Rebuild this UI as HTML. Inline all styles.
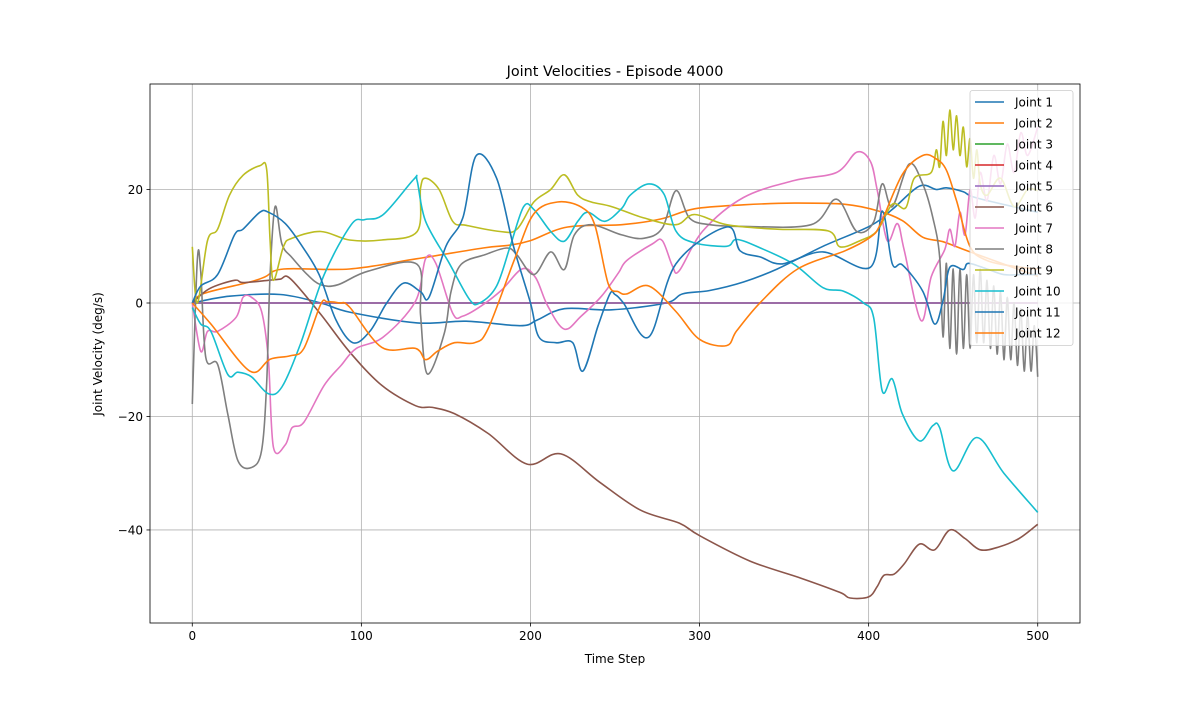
<!DOCTYPE html>
<html><head><meta charset="utf-8"><style>
body{margin:0;background:#fff;font-family:"Liberation Sans","DejaVu Sans",sans-serif}
svg text{font-family:"DejaVu Sans","Liberation Sans",sans-serif}
</style></head><body>
<svg id="chart" width="1200" height="700" xmlns="http://www.w3.org/2000/svg">
<rect width="1200" height="700" fill="#fff"/>
<g id="grid"></g><g id="series"></g><g id="axes"></g><g id="legend"></g>
</svg>
<script>
const xTicks=[0,100,200,300,400,500];
const yTicks=[-40,-20,0,20];
const seriesNames=["Joint 1","Joint 2","Joint 3","Joint 4","Joint 5","Joint 6","Joint 7","Joint 8","Joint 9","Joint 10","Joint 11","Joint 12"];
const j1Steps=[0,22,52,76,93,133,162,194,204,220,248,280,290,306,326,346,373,401,414,430,440,446,456,464,500];
const j1Vals=[0,1.2,1.5,0,-1.6,-3.5,-3.2,-4,-3,-1,-1.2,0,1.6,2.2,3.7,6,10,13.6,16.5,20.6,20,20.3,19.6,18.5,16];
const j2Steps=[0,7,34,43,54,93,133,172,188,200,222,254,277,297,326,356,386,406,420,432,444,460,500];
const j2Vals=[0,1.7,3.7,4.6,6,6,7.8,9.7,10.2,11,13.4,13.8,14.8,16.6,17.3,17.6,17.4,16.2,14.5,11.6,10.8,9,4.7];
const j3Steps=[0,500];const j3Vals=[0,0];
const j4Steps=[0,500];const j4Vals=[0,0];
const j5Steps=[0,500];const j5Vals=[0,0];
const j6Steps=[0,10,25,30,45,52,58,76,93,112,132,142,155,175,198,218,241,265,288,300,330,360,383,389,400,405,409,415,421,430,439,448,457,466,477,489,500];
const j6Vals=[0,2.5,4,3.6,4,4.2,4.3,-2,-8.6,-14.5,-18.1,-18.4,-19.5,-23,-28.4,-26.6,-31.6,-36.5,-38.8,-41,-45.5,-48.5,-51,-52,-51.8,-50,-48,-47.8,-46,-42.5,-43.5,-40,-41.5,-43.5,-43,-41.5,-39];
const j7Steps=[0,5,9,15,26,30,35,41,45,48,55,59,66,78,88,97,113,132,138,144,154,160,171,183,195,203,210,220,230,242,252,257,272,278,284,288,302,326,356,381,393,401,405,411,417,421,431,437,445,448,451,454,457,460,463,466,470,474,478,482,486,490,494,500];
const j7Vals=[0,-8.5,-5,-5,-2.5,1,1,-1.5,-10,-25.4,-25,-22,-21,-14.5,-11,-8,-6,0.3,7.8,7,-1.8,-2.3,-0.5,2.3,6,4.5,-0.4,-4.6,-2.3,1.2,5.3,7.5,10.4,11,6.5,5.7,12.7,18.6,21.6,23,26.6,25,20,11,14,9.4,-3.1,4.6,9.4,13,10,16,12,20,15,23,18,26,21,28,23,30,26,31];
const j8Steps=[0,3,5,8,15,21,27,35,41,44,46,49,53,59,68,76,86,104,133,135,139,149,153,159,173,186,192,202,212,220,226,236,254,267,278,286,294,306,326,366,381,393,403,408,414,424,432,438,442,444,446,448,450,452,454,456,458,460,462,464,466,468,470,472,474,476,478,480,482,484,486,488,490,492,494,496,498,500];
const j8Vals=[-17.8,7.5,5.6,-9.6,-10.8,-19.6,-27.8,-29,-26,-14,5,17,10.4,8,5,3.2,3.2,5.6,6.8,-2,-12.5,-5.4,2,6.8,8.5,9.7,8.5,5,9,5.9,12,13.8,12,11.4,13.2,19.8,15,13.8,13.5,13.8,18.3,12.6,14.3,21,17,24.5,21,15,8,-6,7,-8,6,-9,6,-8,5,-8,5,-7,6,-7,4,-8,3,-9,2,-10,1,-10,0,-11,-1,-12,-2,-12,-4,-13];
const j9Steps=[0,3,9,15,22,30,40,44,46,48,54,59,76,93,112,133,135,138,146,154,162,182,192,202,212,220,228,236,248,267,286,297,316,346,376,383,395,405,414,422,427,437,440,442,444,446,448,450,452,454,456,458,460,462,464,466,470,478,486,494,500];
const j9Vals=[9.9,0,11,13,19,22.5,24.2,23.5,11,4,10,11.4,12.6,11.1,11.1,12.6,20.2,22,20,14.4,13.7,12.6,13,17.8,20,22.6,19,17.8,17,15,13.8,15.6,13.8,13,12.7,9.9,11,12.7,17.4,16.8,22,23,27,24,32,26,34,27,33,26,31,24,29,22,27,21,19,22,17,20,19.8];
const j10Steps=[0,5,11,21,27,35,45,53,64,78,94,102,113,131,133,138,152,164,170,180,188,196,202,212,220,228,234,244,254,259,270,279,286,297,316,322,336,356,373,385,397,403,408,414,420,430,438,442,450,464,480,500];
const j10Vals=[-0.8,-3.7,-5,-12.6,-12.2,-13,-16,-14.8,-7.2,5,13.8,14.7,15.6,21.8,21.5,14.4,7,0.6,0,3,10,17,16.5,12.6,10.9,14.4,16,14.4,16.7,19,21,19.2,12.7,10.6,10,11.2,9.7,6.8,2.7,2.1,0,-2.6,-15.5,-13.4,-19.6,-24.3,-21.6,-22,-29.6,-23.7,-30,-36.9];
const j11Steps=[0,5,15,25,30,40,45,55,65,75,85,95,105,115,125,135,140,150,160,168,180,190,200,205,215,225,231,240,247,250,255,270,286,316,324,336,349,373,401,408,414,420,432,439,444,448,456,459,470,480,490,500];
const j11Vals=[0,3,5,12,13,16,16,14,10,5,-3,-7,-5,0,3.5,2,1,10,15,26,22,10,0,-6,-7,-7,-12,-4,1.6,1.5,0,-6,6.9,13.4,9.2,8.1,6.9,9,6.3,16.2,6.9,6.7,2.1,-3.7,0.4,6.3,5.9,7,6,5,5,5];
const j12Steps=[0,11,34,46,58,66,76,80,87,93,112,132,138,145,155,167,175,191,202,216,230,238,246,252,257,270,286,300,316,322,336,358,386,401,407,420,432,440,446,452,460,470,485,500];
const j12Vals=[0,-3.7,-12,-9.9,-9.3,-8,-0.2,0.2,0,-0.7,-7.8,-8,-10,-8.5,-7,-7,-4.5,8,15.7,17.8,16.9,13.8,3.4,2,1.6,3,-1.5,-6.4,-7.5,-4.9,0.1,6,9.2,11.6,13.9,22.7,26,25.4,23.4,18,9.9,7.5,6.5,6];

const allSteps=[j1Steps,j2Steps,j3Steps,j4Steps,j5Steps,j6Steps,j7Steps,j8Steps,j9Steps,j10Steps,j11Steps,j12Steps];
const allVals=[j1Vals,j2Vals,j3Vals,j4Vals,j5Vals,j6Vals,j7Vals,j8Vals,j9Vals,j10Vals,j11Vals,j12Vals];
const colors=["#1f77b4","#ff7f0e","#2ca02c","#d62728","#9467bd","#8c564b","#e377c2","#7f7f7f","#bcbd22","#17becf","#1f77b4","#ff7f0e"];

const L=150,R=1080,T=84,B=623;
const xMin=-25,xMax=525,yMin=-56.4,yMax=38.6;
const X=v=>L+(v-xMin)/(xMax-xMin)*(R-L);
const Y=v=>B-(v-yMin)/(yMax-yMin)*(B-T);
const NS="http://www.w3.org/2000/svg";
function mk(tag,attrs,parent){const e=document.createElementNS(NS,tag);for(const k in attrs)e.setAttribute(k,attrs[k]);parent.appendChild(e);return e;}
const grid=document.getElementById('grid'),ser=document.getElementById('series'),ax=document.getElementById('axes'),lg=document.getElementById('legend');

function smoothPath(pts){
  if(pts.length<3)return pts.map((p,k)=>(k?'L':'M')+p[0].toFixed(1)+','+p[1].toFixed(1)).join(' ');
  let d='M'+pts[0][0].toFixed(1)+','+pts[0][1].toFixed(1);
  for(let i=0;i<pts.length-1;i++){
    const p0=pts[Math.max(0,i-1)],p1=pts[i],p2=pts[i+1],p3=pts[Math.min(pts.length-1,i+2)];
    const c1x=p1[0]+(p2[0]-p0[0])/6,c1y=p1[1]+(p2[1]-p0[1])/6;
    const c2x=p2[0]-(p3[0]-p1[0])/6,c2y=p2[1]-(p3[1]-p1[1])/6;
    d+=' C'+c1x.toFixed(1)+','+c1y.toFixed(1)+' '+c2x.toFixed(1)+','+c2y.toFixed(1)+' '+p2[0].toFixed(1)+','+p2[1].toFixed(1);
  }
  return d;
}

xTicks.forEach(t=>{
  const g=mk('line',{x1:X(t),x2:X(t),y1:T,y2:B,stroke:'#b0b0b0','stroke-width':0.8},grid);
  
  
  mk('line',{x1:X(t),x2:X(t),y1:B,y2:B+3.5,stroke:'#000','stroke-width':0.8},ax);
  const tx=mk('text',{x:X(t),y:B+17,'font-size':12,'text-anchor':'middle',fill:'#000'},ax);
  tx.textContent=t;
  
  
});
yTicks.forEach(t=>{
  const g=mk('line',{x1:L,x2:R,y1:Y(t),y2:Y(t),stroke:'#b0b0b0','stroke-width':0.8},grid);
  
  
  mk('line',{x1:L-3.5,x2:L,y1:Y(t),y2:Y(t),stroke:'#000','stroke-width':0.8},ax);
  const tx=mk('text',{x:L-7,y:Y(t)+4.5,'font-size':12,'text-anchor':'end',fill:'#000'},ax);
  tx.textContent=t===0?'0':(t<0?'\u2212'+(-t):t);
  
  
});
allSteps.forEach((s,i)=>{
  const v=allVals[i];
  const pts=s.map((st,k)=>[X(st),Y(v[k])]);
  const p=mk('path',{d:smoothPath(pts),fill:'none',stroke:colors[i],'stroke-width':1.6,'stroke-linejoin':'round'},ser);
  
  
});
const frame=mk('rect',{x:L,y:T,width:R-L,height:B-T,fill:'none',stroke:'#000','stroke-width':0.8},ax);


const title=mk('text',{x:(L+R)/2,y:T-8,'font-size':14.4,'text-anchor':'middle',fill:'#000'},ax);
title.textContent='Joint Velocities - Episode 4000';


const xl=mk('text',{x:(L+R)/2,y:663,'font-size':12,'text-anchor':'middle',fill:'#000'},ax);
xl.textContent='Time Step';


const yl=mk('text',{x:0,y:0,'font-size':12,'text-anchor':'middle',fill:'#000',transform:'translate(102,354) rotate(-90)'},ax);
yl.textContent='Joint Velocity (deg/s)';



const box=mk('rect',{x:970,y:90.5,width:103,height:255,rx:2.5,fill:'#fff','fill-opacity':0.8,stroke:'#cccccc','stroke-width':0.8},lg);


seriesNames.forEach((n,i)=>{
  const y=102+i*21;
  const g=mk('g',{},lg);
  
  
  mk('line',{x1:975,x2:1004,y1:y,y2:y,stroke:colors[i],'stroke-width':1.5},g);
  const t=mk('text',{x:1015,y:y+4.5,'font-size':12,fill:'#000'},g);
  t.textContent=n;
});
</script>
</body></html>
